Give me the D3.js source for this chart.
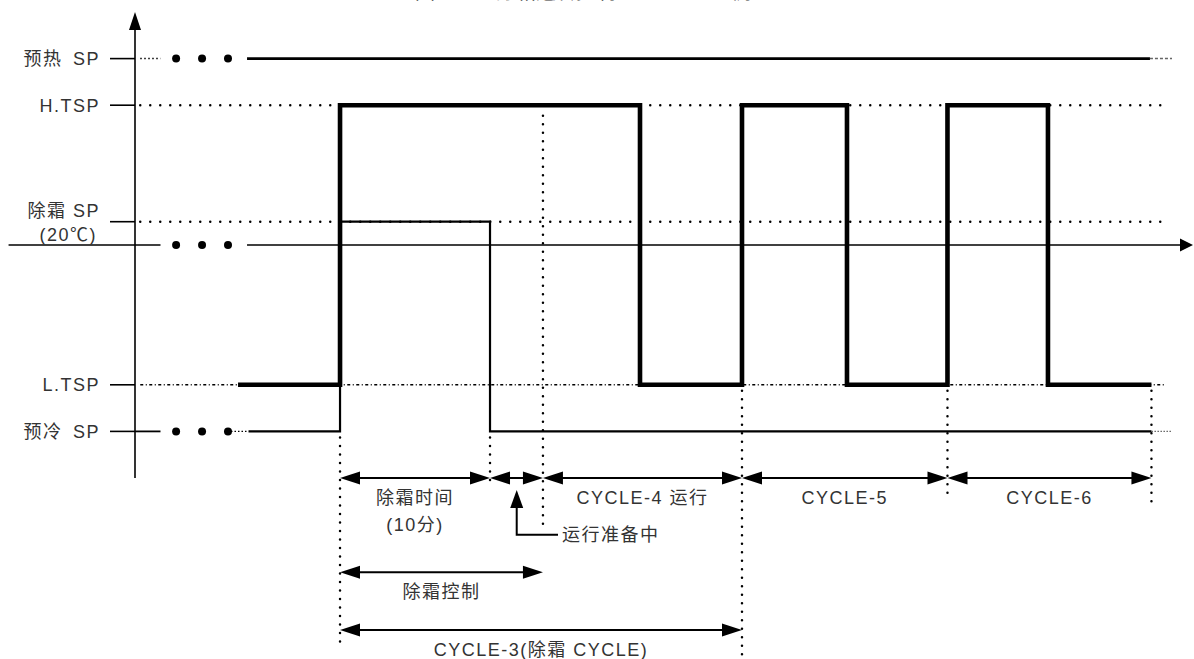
<!DOCTYPE html>
<html><head><meta charset="utf-8">
<script src="https://cdn.jsdelivr.net/npm/d3@7"></script>
<style>
html,body{margin:0;padding:0;background:#fff;}
svg{display:block;}
text{font-family:"Liberation Sans","Noto Sans CJK SC",sans-serif;fill:#333;}
</style>
</head><body>
<svg id="chart" width="1194" height="659"></svg>
<script>
// ---------- data (time in minutes from defrost start; levels in nominal units) ----------
const titleParts = ["图", "4-3.", "除霜运转控制", "CYCLE", "例"];
const titleTimes = [5.0, 7.0, 10.4, 19.1, 26.1];

const levelNames  = ["预热 SP", "H.TSP", "除霜 SP", "L.TSP", "预冷 SP"];
const levelValues = [90, 80, 55, 20, 10];
const baseLabel   = "(20℃)";
const baseValue   = 50;

const timeStart   = -13.67;   // y-axis position
const timeEnd     = 56.87;    // x-axis arrow tip
const baseLeft    = -22.1;    // x-axis line left end
const refEnd      = 55.0;     // end of dotted reference lines
const ellipsisTimes = [-10.93, -9.2, -7.47];

// H.TSP / L.TSP signal (thick)
const tspTimes  = [-6.8, 0, 20, 26.8, 33.8, 40.5, 47.2, 54.1];
const tspStates = [20, 80, 20, 80, 20, 80, 20];

// defrost SP / pre-cool signal (thin)
const defrostTimes  = [-6.1, 0, 10, 54.1];
const defrostStates = [10, 55, 10];

// pre-heat line
const preheatSpan = [-6.2, 54.0];
const tailEnd     = 55.47;

// vertical dotted markers
const markerTimes   = [0, 10, 13.53, 26.8, 40.5, 54.1];
const markerTops    = [10, 10, 79, 20, 20, 20];
const markerBottoms = [-36.5, -1.5, -11.2, -39.0, -4.7, -5.2];

// double-arrow spans
const spanStarts = [0, 10, 13.53, 26.8, 40.5, 0, 0];
const spanEnds   = [10, 13.53, 26.8, 40.5, 54.1, 13.53, 26.8];
const spanRows   = [0, 0, 0, 0, 0, -20.2, -32.6];
const spanLabels = [["除霜时间", "(10分)"], [], ["CYCLE-4 运行"], ["CYCLE-5"], ["CYCLE-6"], ["除霜控制"], ["CYCLE-3(除霜 CYCLE)"]];

// "运行准备中" callout
const prepLabel = "运行准备中";
const prepTime  = 11.78;
const prepRow   = -12.2;
const prepEnd   = 14.0;

// ---------- scales ----------
const svg = d3.select("#chart");
const x = d3.scaleLinear().domain([timeStart, timeEnd]).range([135, 1193]);
const y = d3.scaleLinear().domain([0, 100]).range([478, 12]);
const X0 = x(timeStart);

const g = svg.append("g");

// title (mostly cut off at top, as in the reference)
const title = g.append("text").attr("y", -1.5).attr("font-size", 20);
titleParts.forEach((p, i) => title.append("tspan").attr("x", x(titleTimes[i])).text(p));

// ---------- dotted reference lines ----------
function hline(v, t0, t1) { return g.append("line").attr("x1", x(t0)).attr("x2", x(t1)).attr("y1", y(v)).attr("y2", y(v)).attr("stroke", "#000"); }

// H.TSP, 除霜 SP dotted
[80, 55].forEach(v => hline(v, timeStart + 0.35, refEnd)
  .attr("stroke-width", 2.5).attr("stroke-linecap", "round").attr("stroke-dasharray", "0,10"));
// L.TSP dash-dot
hline(20, timeStart + 0.35, refEnd).attr("stroke-width", 1.5).attr("stroke-dasharray", "3,2.5,1,2.5");

// pre-heat: small dots, ellipsis, solid, faint tail
hline(90, timeStart + 0.35, timeStart + 1.7).attr("stroke-width", 1.5).attr("stroke-dasharray", "1.5,2.5");
hline(90, preheatSpan[0], preheatSpan[1]).attr("stroke-width", 2.6);
hline(90, preheatSpan[1], tailEnd).attr("stroke-width", 1.5).attr("stroke", "#666").attr("stroke-dasharray", "3,2");

// pre-cool: solid start, ellipsis, small dots, faint tail
hline(10, timeStart, timeStart + 1.7).attr("stroke-width", 1.8);
hline(10, ellipsisTimes[2] + 0.2, defrostTimes[0]).attr("stroke-width", 1.3).attr("stroke-dasharray", "1.5,2");
hline(10, defrostTimes[defrostTimes.length - 1], tailEnd).attr("stroke-width", 1.3).attr("stroke", "#666").attr("stroke-dasharray", "1.5,1.5");

// base (20℃) axis
hline(baseValue, baseLeft, timeStart + 1.7).attr("stroke-width", 1.6);
hline(baseValue, preheatSpan[0], timeEnd - 0.85).attr("stroke-width", 1.6);
g.append("path").attr("d", `M${x(timeEnd)},${y(baseValue)} l-13,-6.5 l0,13 Z`).attr("fill", "#000");

// ellipsis dots
[90, baseValue, 10].forEach(v => {
  g.selectAll(null).data(ellipsisTimes).enter().append("circle")
    .attr("cx", d => x(d)).attr("cy", y(v)).attr("r", 4).attr("fill", "#000");
});

// ---------- y axis ----------
g.append("line").attr("x1", X0).attr("x2", X0).attr("y1", y(0)).attr("y2", y(100) + 14)
  .attr("stroke", "#000").attr("stroke-width", 1.6);
g.append("path").attr("d", `M${X0},${y(100)} l-6,18 l12,0 Z`).attr("fill", "#000");

levelValues.forEach((v, i) => {
  g.append("line").attr("x1", X0 - 25).attr("x2", X0).attr("y1", y(v)).attr("y2", y(v))
    .attr("stroke", "#000").attr("stroke-width", 1.6);
  const t = g.append("text").attr("x", X0 - 35).attr("text-anchor", "end")
    .attr("font-size", 18).attr("letter-spacing", 1.5);
  if (v === 55) {
    t.attr("y", y(v) - 11).attr("dy", "0.35em").text(levelNames[i]);
    g.append("text").attr("x", X0 - 38).attr("y", y(v) + 13).attr("dy", "0.35em")
      .attr("text-anchor", "end").attr("font-size", 18).attr("letter-spacing", 1.5).text(baseLabel);
  } else {
    t.attr("y", y(v)).attr("dy", "0.35em").text(levelNames[i].replace(" ", "\u2002"));
  }
});

// ---------- signals ----------
const line = d3.line().x(d => x(d[0])).y(d => y(d[1])).curve(d3.curveStepAfter);
const tspPts = tspTimes.map((t, i) => [t, tspStates[Math.min(i, tspStates.length - 1)]]);
g.append("path").attr("d", line(tspPts)).attr("fill", "none").attr("stroke", "#000")
  .attr("stroke-width", 4.6).attr("stroke-linejoin", "miter");
const defPts = defrostTimes.map((t, i) => [t, defrostStates[Math.min(i, defrostStates.length - 1)]]);
g.append("path").attr("d", line(defPts)).attr("fill", "none").attr("stroke", "#000")
  .attr("stroke-width", 2.2);

// ---------- vertical dotted markers ----------
markerTimes.forEach((t, i) => {
  g.append("line").attr("x1", x(t)).attr("x2", x(t)).attr("y1", y(markerTops[i]) + 6).attr("y2", y(markerBottoms[i]))
    .attr("stroke", "#000").attr("stroke-width", 2.5).attr("stroke-linecap", "round").attr("stroke-dasharray", "0,8.5");
});

// ---------- double arrows ----------
const AH = 20, AW = 6.5;
spanStarts.forEach((s, i) => {
  const x1 = x(s), x2 = x(spanEnds[i]), yy = y(spanRows[i]);
  g.append("line").attr("x1", x1 + 5).attr("x2", x2 - 5).attr("y1", yy).attr("y2", yy)
    .attr("stroke", "#000").attr("stroke-width", 2);
  g.append("path").attr("d", `M${x1},${yy} l${AH},${-AW} l0,${2 * AW} Z`).attr("fill", "#000");
  g.append("path").attr("d", `M${x2},${yy} l${-AH},${-AW} l0,${2 * AW} Z`).attr("fill", "#000");
  spanLabels[i].forEach((lab, k) => {
    g.append("text").attr("x", (x1 + x2) / 2).attr("y", yy + 20 + k * 27).attr("dy", "0.35em")
      .attr("text-anchor", "middle").attr("font-size", 18).attr("letter-spacing", 1.5).text(lab);
  });
});

// callout
const px = x(prepTime), py = y(prepRow);
g.append("path").attr("d", `M${x(prepEnd) + 8},${py} L${px},${py} L${px},${y(0) + 24}`)
  .attr("fill", "none").attr("stroke", "#000").attr("stroke-width", 2);
g.append("path").attr("d", `M${px},${y(0) + 12} l-6.5,18 l13,0 Z`).attr("fill", "#000");
g.append("text").attr("x", x(prepEnd) + 12).attr("y", py).attr("dy", "0.35em")
  .attr("font-size", 18).attr("letter-spacing", 1.5).text(prepLabel);
</script>
</body></html>
